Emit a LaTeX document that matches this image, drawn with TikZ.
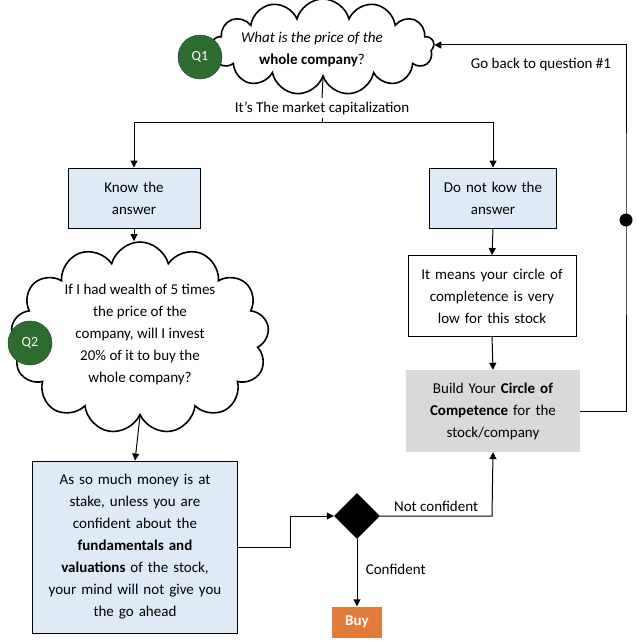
\documentclass[tikz,border=0pt]{standalone}
\usepackage{fontspec}
\setmainfont{Carlito}
\usetikzlibrary{shapes.symbols,shapes.geometric,arrows.meta}
\begin{document}
\begin{tikzpicture}[x=1pt,y=-1pt,font=\fontsize{15}{22}\selectfont,
  arr/.style={-{Triangle[length=7pt,width=7pt]},line width=1pt},
  ln/.style={line width=1pt},
  bluebox/.style={draw,line width=0.9pt,fill=lb,align=center,minimum height=60pt,inner sep=3pt},
  cloudy/.style={cloud,draw,line width=1.6pt,fill=white,cloud puffs=13,inner sep=0pt},
  qc/.style={circle,fill=qg,draw=qg!60!black,text=white,minimum size=44pt,inner sep=0pt,font=\fontsize{14}{16}\selectfont}]
\definecolor{lb}{HTML}{DEEBF7}
\definecolor{qg}{HTML}{2E6B30}
\definecolor{bo}{HTML}{E07B39}
\useasboundingbox (0,0) rectangle (640,642);
\node[cloudy,minimum width=222pt,minimum height=96pt] (c1) at (323,47) {};
\node[align=center] at (312,49) {\itshape What is the price of the\\ \bfseries whole company\mdseries?};
\node[qc] (q1) at (200,57) {Q1};
\node (mc) at (322,108) {It's The market capitalization};
\node[bluebox,text width=126pt] (b1) at (134,198) {Know the\\answer};
\node[bluebox,text width=121pt] (b2) at (493,198) {Do not kow the\\answer};
\coordinate (sp) at (322,122);
\draw[ln] (c1.south) -- (mc.north);
\draw[arr] (mc.south) -- (sp) -| (b1.north);
\draw[arr] (sp) -| (b2.north);
\node[cloudy,minimum width=258pt,minimum height=192pt] (c2) at (140,338) {};
\node[align=center] at (140,334) {If I had wealth of 5 times\\the price of the\\company, will I invest\\20\% of it to buy the\\whole company?};
\node[qc] (q2) at (30,343) {Q2};
\draw[arr] (b1.south) -- (b1.south|-c2.north);
\node[bluebox,text width=199pt,minimum height=172pt] (b3) at (135,547) {As so much money is at\\stake, unless you are\\confident about the\\\textbf{fundamentals and}\\\textbf{valuations} of the stock,\\your mind will not give you\\the go ahead};
\draw[arr] (c2.south) -- (b3.north);
\node[diamond,fill=black,minimum size=46pt,inner sep=0pt] (d) at (357,516) {};
\draw[arr] (b3.east) -- (290,547) |- (d.west);
\node[fill=bo,text=white,font=\fontsize{15}{16}\selectfont\bfseries,minimum width=50pt,minimum height=31pt] (buy) at (357,622) {Buy};
\draw[arr] (d.south) -- (buy.north) node[pos=0.45,right=5pt]{Confident};
\node[draw,line width=0.9pt,fill=white,align=center,text width=164pt,minimum height=81pt,inner sep=2pt] (b4) at (492,296) {It means your circle of\\completence is very\\low for this stock};
\draw[arr] (b2.south) -- (b4.north);
\node[fill=black!15,align=center,text width=170pt,minimum height=82pt,inner sep=2pt] (b5) at (493,411) {Build Your \textbf{Circle of}\\\textbf{Competence} for the\\stock/company};
\draw[arr] (b4.south) -- (b5.north);
\draw[arr] (d.east) -- node[above=1pt,pos=0.5]{Not confident} (492,516) -- (b5.south);
\coordinate (dot) at (626,220);
\draw[arr] (b5.east) -| (dot) -- (626,45) -- (c1.east|-0,45);
\fill (dot) circle (6.5pt);
\node (gb) at (541,65) {Go back to question \#1};
\end{tikzpicture}
\end{document}
